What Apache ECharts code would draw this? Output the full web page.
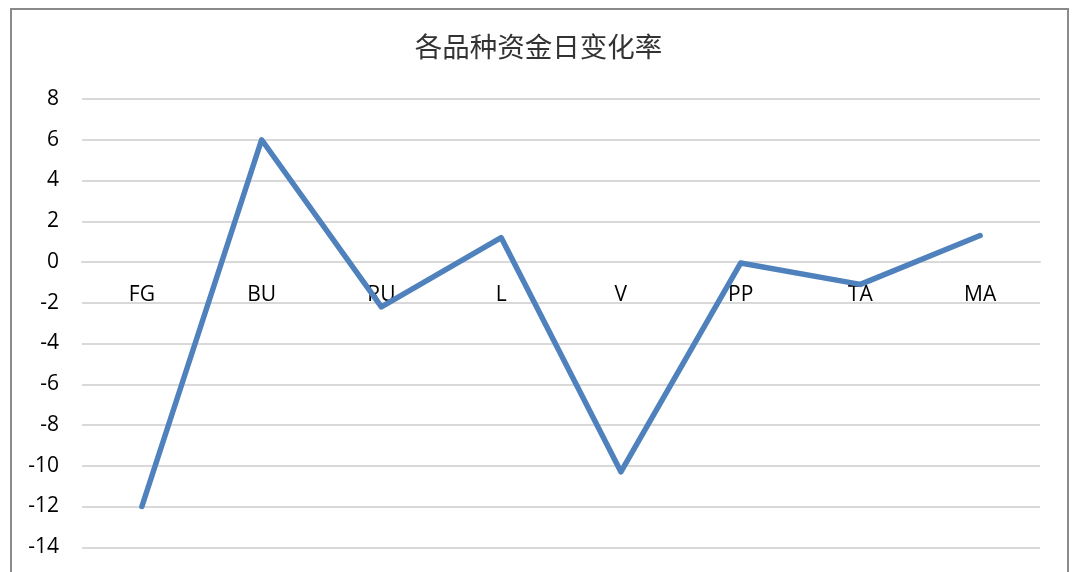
<!DOCTYPE html>
<html>
<head>
<meta charset="utf-8">
<script src="https://cdn.jsdelivr.net/npm/echarts@6/dist/echarts.min.js"></script>
<style>
html,body{margin:0;padding:0;background:#fff;}
#chart{width:1077px;height:572px;}
</style>
</head>
<body>
<div id="chart"></div>
<script>
const categories = ['FG', 'BU', 'RU', 'L', 'V', 'PP', 'TA', 'MA'];
const values = [-12.0, 6.0, -2.2, 1.2, -10.3, -0.05, -1.1, 1.3];
const chartTitle = '各品种资金日变化率';

const gridTop = 99, gridHeight = 489;
const yMin = -16, yMax = 8;
// distance from grid bottom up to the zero line
const zeroOffset = gridHeight * (0 - yMin) / (yMax - yMin);

const chart = echarts.init(document.getElementById('chart'));
chart.setOption({
  backgroundColor: '#ffffff',
  animation: false,
  title: {
    text: chartTitle,
    left: 'center',
    top: 28,
    textStyle: { fontFamily: 'Noto Sans CJK SC', fontSize: 27.5, fontWeight: 'normal', color: '#333333' }
  },
  graphic: [{
    type: 'rect',
    shape: { x: 11, y: 9, width: 1057, height: 700 },
    style: { fill: 'none', stroke: '#8a8a8a', lineWidth: 2 },
    silent: true
  }],
  grid: { left: 82, top: gridTop, width: 958, height: gridHeight, outerBoundsMode: 'none', containLabel: false },
  xAxis: {
    type: 'category',
    data: categories,
    boundaryGap: true,
    position: 'bottom',
    offset: -zeroOffset,
    z: 0,
    axisLine: { show: true, onZero: false, lineStyle: { color: '#d9d9d9', width: 2 } },
    axisTick: { show: false },
    axisLabel: { margin: 23, fontFamily: 'Open Sans', fontSize: 21, color: '#000', interval: 0 }
  },
  yAxis: {
    type: 'value',
    min: yMin,
    max: yMax,
    interval: 2,
    axisLine: { show: false },
    axisTick: { show: false },
    splitLine: { lineStyle: { color: '#d9d9d9', width: 2 } },
    axisLabel: { margin: 23, fontFamily: 'Open Sans', fontSize: 21, color: '#000' }
  },
  series: [{
    type: 'line',
    data: values,
    showSymbol: false,
    symbol: 'none',
    z: 5,
    lineStyle: { color: '#4f81bd', width: 5.5, cap: 'round', join: 'round' }
  }]
});
</script>
</body>
</html>
